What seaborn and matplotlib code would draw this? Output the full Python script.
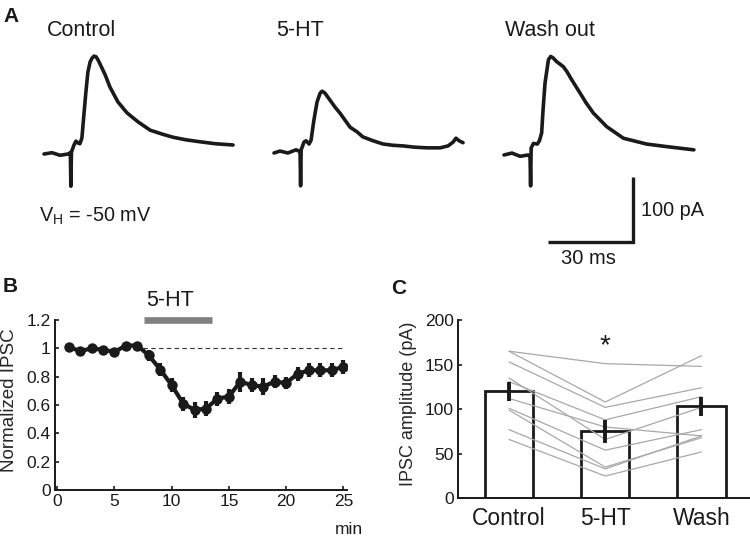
import numpy as np
import matplotlib.pyplot as plt
import seaborn as sns

# ---- Panel A: example IPSC traces (ms from trace start, pA from baseline)
ctrl_t = [0, 2.8, 5.7, 8.5, 9.3, 9.5, 9.7, 10.6, 11.3, 12.0, 12.7, 13.4, 14.1, 14.8, 15.5, 16.3, 17.0,
          17.7, 18.4, 19.1, 20.1, 21.6, 23.3, 26.1, 29.3, 33.2, 37.5, 41.7, 45.6, 50.2, 55.1, 60.4, 66.8]
ctrl_i = [0, 2, -2, 0, 2, -50, 3, 14, 20, 17, 16, 25, 61, 96, 127, 143, 149,
          152, 151, 146, 137, 123, 104, 81, 64, 50, 37, 31, 26, 22, 19, 16, 14]

ht_t = [0, 2.1, 4.9, 7.8, 9.2, 9.4, 9.6, 10.6, 11.3, 12.4, 13.1, 14.1, 15.2, 16.3, 17.0, 18.0, 19.8, 21.6,
        23.3, 25.1, 26.9, 29.3, 31.4, 35.0, 38.5, 42.0, 45.6, 49.8, 54.1, 58.7, 61.5, 63.3, 64.3, 65.4, 66.8]
ht_i = [0, 3, 0, 5, 2, -51, 5, 17, 19, 14, 20, 51, 79, 93, 96, 93, 82, 71,
        62, 51, 40, 33, 25, 19, 14, 12, 11, 9, 8, 8, 11, 17, 23, 19, 16]

wash_t = [0, 2.8, 5.7, 8.5, 9.2, 9.4, 9.6, 10.4, 11.8, 12.5, 13.3, 13.8, 14.5, 15.7, 16.5, 17.3, 18.6,
          19.8, 21.0, 22.3, 23.9, 26.9, 29.0, 31.6, 36.3, 42.2, 50.4, 57.5, 67.1]
wash_i = [0, 3, -2, 0, -3, -48, 11, 18, 17, 22, 34, 70, 112, 148, 153, 151, 145,
          141, 137, 129, 117, 96, 81, 65, 44, 26, 17, 13, 8]

trace_names = ['Control', '5-HT', 'Wash out']
scale_ms = 30
scale_pa = 100

# ---- Panel B: time course
minutes = list(range(1, 26))
ipsc_norm = [1.01, 0.98, 1.0, 0.99, 0.975, 1.02, 1.02, 0.95, 0.85, 0.74, 0.61, 0.565, 0.575, 0.645, 0.66,
             0.765, 0.74, 0.73, 0.765, 0.755, 0.82, 0.845, 0.845, 0.845, 0.87]
ipsc_sem = [0.02, 0.015, 0.015, 0.015, 0.03, 0.015, 0.015, 0.04, 0.045, 0.05, 0.05, 0.055, 0.05, 0.05, 0.05,
            0.07, 0.05, 0.06, 0.045, 0.045, 0.05, 0.05, 0.05, 0.05, 0.05]
drug_on, drug_off = 7.6, 13.5

# ---- Panel C: amplitudes
conditions = ['Control', '5-HT', 'Wash']
amp_mean = [120, 75, 103]
amp_sem = [11, 12.5, 11]
cell_control = [165, 165, 153, 135, 131, 112, 101, 99, 77, 66]
cell_5ht = [151, 108, 102, 66, 88, 80, 54, 35, 33, 25]
cell_wash = [148, 160, 124, 102, 114, 70, 77, 68, 70, 52]

sns.set_style('ticks')
plt.rcParams['font.family'] = ['Liberation Sans', 'DejaVu Sans']
plt.rcParams['mathtext.fontset'] = 'custom'
plt.rcParams['mathtext.rm'] = 'Liberation Sans'
plt.rcParams['axes.edgecolor'] = '#1a1a1a'
plt.rcParams['text.color'] = '#1a1a1a'
plt.rcParams['xtick.color'] = '#1a1a1a'
plt.rcParams['ytick.color'] = '#1a1a1a'

W, H = 750, 538
fig = plt.figure(figsize=(W / 100, H / 100), dpi=100)


def fx(px):
    return px / W


def fy(py):
    return 1 - py / H


ink = '#1a1a1a'

# ---------------- A
PX_MS, PX_PA = 2.83, 0.644
axA = fig.add_axes([0, fy(270), 1, 270 / H])
axA.axis('off')
axA.set_xlim(-44 / PX_MS, (W - 44) / PX_MS)
axA.set_ylim((154 - 270) / PX_PA, 154 / PX_PA)

offsets = [(0, 0), ((274 - 44) / PX_MS, 1 / PX_PA), ((504 - 44) / PX_MS, -1 / PX_PA)]
for (t, i), (dx, dy) in zip([(ctrl_t, ctrl_i), (ht_t, ht_i), (wash_t, wash_i)], offsets):
    axA.plot(np.array(t) + dx, np.array(i) + dy, color=ink, lw=2.6, solid_joinstyle='round')

sx = (547.7 - 44) / PX_MS
sy = (154 - 241.7) / PX_PA
axA.plot([sx, sx + scale_ms, sx + scale_ms], [sy, sy, sy + scale_pa], color=ink, lw=2.4,
         solid_joinstyle='miter', solid_capstyle='butt')

fig.text(fx(3), fy(16), 'A', fontsize=15, fontweight='bold', va='center')
for name, px in zip(trace_names, [47, 276, 505]):
    fig.text(fx(px), fy(30), name, fontsize=15.5, va='center')
fig.text(fx(39), fy(216), r'V$_{\mathrm{H}}$ = -50 mV', fontsize=14.3, va='center')
fig.text(fx(641), fy(211), f'{scale_pa} pA', fontsize=14.3, va='center')
fig.text(fx(588), fy(259), f'{scale_ms} ms', fontsize=14.5, va='center', ha='center')

# ---------------- B
axB = fig.add_axes([fx(55), fy(490), (347 - 55) / W, 170 / H])
axB.plot([7.5, 25], [1, 1], ls=(0, (4, 3)), lw=0.8, color='#333333')
axB.errorbar(minutes, ipsc_norm, yerr=ipsc_sem, fmt='none', ecolor=ink, elinewidth=3.0, capsize=0)
sns.lineplot(x=minutes, y=ipsc_norm, ax=axB, color=ink, lw=3.0, marker='o', markersize=7.5,
             markeredgewidth=0)
axB.plot([drug_on, drug_off], [1.2, 1.2], color='#808080', lw=4.8, solid_capstyle='butt', clip_on=False)
axB.text(9.85, 1.34, '5-HT', fontsize=15.5, ha='center', va='center')
axB.set_xlim(-0.2, 25.32)
axB.set_ylim(0, 1.2)
axB.set_xticks([0, 5, 10, 15, 20, 25])
axB.set_yticks([0, 0.2, 0.4, 0.6, 0.8, 1.0, 1.2])
axB.set_yticklabels(['0', '0.2', '0.4', '0.6', '0.8', '1', '1.2'])
axB.tick_params(direction='in', length=3, width=1.2, labelsize=12.5, pad=3)
axB.set_ylabel('Normalized IPSC', fontsize=13.5)
axB.yaxis.set_label_coords(-0.125, 0.53)
sns.despine(ax=axB)
for s in ['left', 'bottom']:
    axB.spines[s].set_linewidth(1.4)
fig.text(fx(349), fy(530), 'min', fontsize=12.5, ha='center', va='center')
fig.text(fx(3), fy(286), 'B', fontsize=15, fontweight='bold', va='center')

# ---------------- C
axC = fig.add_axes([fx(458), fy(498.3), 1 - fx(458), 178.3 / H])
sns.barplot(x=conditions, y=amp_mean, ax=axC, color='white', saturation=1, edgecolor=ink,
            linewidth=2.0, width=0.5, errorbar=None)
for c, h, w in zip(cell_control, cell_5ht, cell_wash):
    axC.plot([0, 1, 2], [c, h, w], color='#a8a8a8', lw=0.9, zorder=3)
axC.errorbar([0, 1, 2], amp_mean, yerr=amp_sem, fmt='none', ecolor=ink, elinewidth=2.8, capsize=0,
             zorder=4)
axC.text(1, 171, '*', fontsize=20, ha='center', va='center')
axC.set_xlim(-0.53, 2.504)
axC.set_ylim(0, 200)
axC.set_yticks([0, 50, 100, 150, 200])
axC.tick_params(axis='y', direction='in', length=3, width=1.2, labelsize=12.5, pad=3)
axC.tick_params(axis='x', length=0, labelsize=16.5, pad=6)
axC.set_xlabel('')
axC.set_ylabel('IPSC amplitude (pA)', fontsize=13)
axC.yaxis.set_label_coords(-0.14, 0.53)
sns.despine(ax=axC)
for s in ['left', 'bottom']:
    axC.spines[s].set_linewidth(1.4)
fig.text(fx(391), fy(288), 'C', fontsize=15, fontweight='bold', va='center')

fig.savefig('out.png', dpi=100)
